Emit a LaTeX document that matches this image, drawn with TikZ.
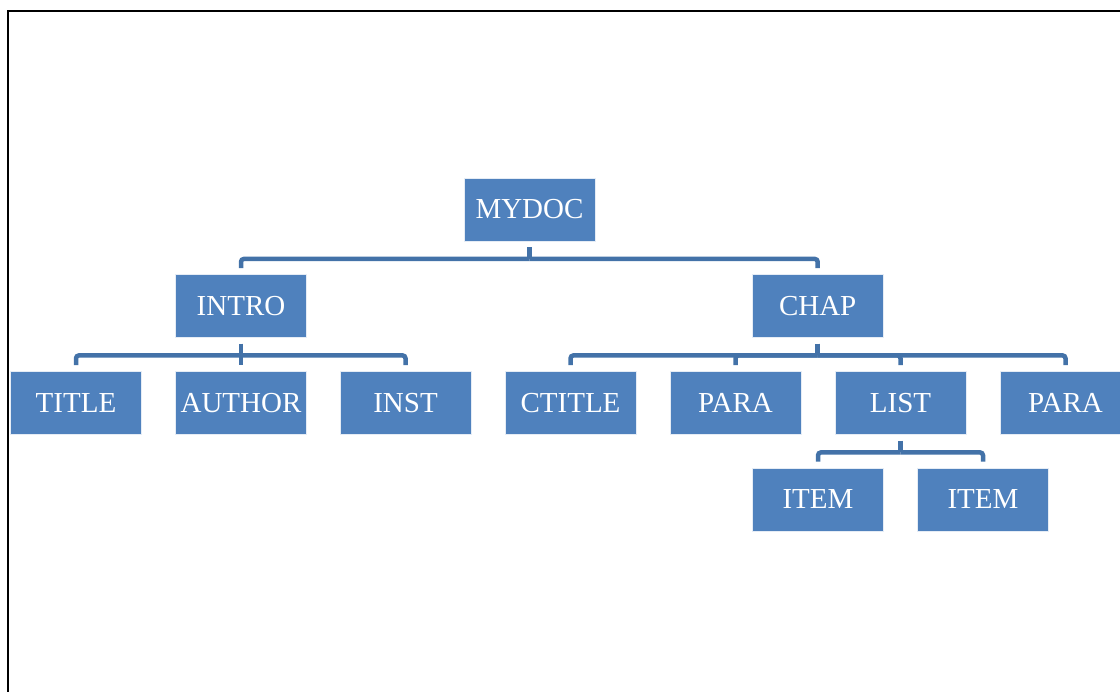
\documentclass[tikz,border=0pt]{standalone}
\usepackage{fontspec}
\setmainfont{Liberation Serif}
\definecolor{boxblue}{HTML}{4F81BD}
\definecolor{linkblue}{HTML}{4372A8}
\begin{document}
\begin{tikzpicture}[x=1pt,y=-1pt,
  box/.style={rectangle, fill=boxblue, draw=white!85!boxblue, line width=0.8pt,
    minimum width=131pt, minimum height=63pt, inner sep=0pt,
    text=white, font=\fontsize{29}{34}\selectfont},
  link/.style={draw=linkblue, line width=4.5pt}]
\clip (0,0) rectangle (1120,692);
\useasboundingbox (0,0) rectangle (1120,692);
\fill[white] (0,0) rectangle (1120,692);
% outer frame
\draw[line width=2pt, black] (8,700) -- (8,11) -- (1130,11);

% level 0 and 1
\node[box] (mydoc) at (529.5,209.5) {MYDOC};
\node[box] (intro) at (241,306) {INTRO};
\node[box] (chap) at (817.7,306) {CHAP};
% level 2
\node[box] (title) at (76,403) {TITLE};
\node[box] (author) at (241,403) {AUTHOR};
\node[box] (inst) at (405.5,403) {INST};
\node[box] (ctitle) at (570.5,403) {CTITLE};
\node[box] (para1) at (735.5,403) {PARA};
\node[box] (list) at (900.5,403) {LIST};
\node[box] (para2) at (1065.5,403) {PARA};
% level 3
\node[box] (item1) at (818,499.5) {ITEM};
\node[box] (item2) at (983,499.5) {ITEM};

% connectors: a stub below the parent, then a bar turning down to each child
\foreach \p/\c in {mydoc/intro, mydoc/chap,
                   intro/title, intro/author, intro/inst,
                   chap/ctitle, chap/para1, chap/list, chap/para2,
                   list/item1, list/item2}{
  \path[link, shorten <=6pt] (\p.south) -- ++(0,17.5);
  \path[link, rounded corners=3pt, shorten >=6pt]
    ([yshift=-17.5pt]\p.south) -| (\c.north);
}
\end{tikzpicture}
\end{document}
